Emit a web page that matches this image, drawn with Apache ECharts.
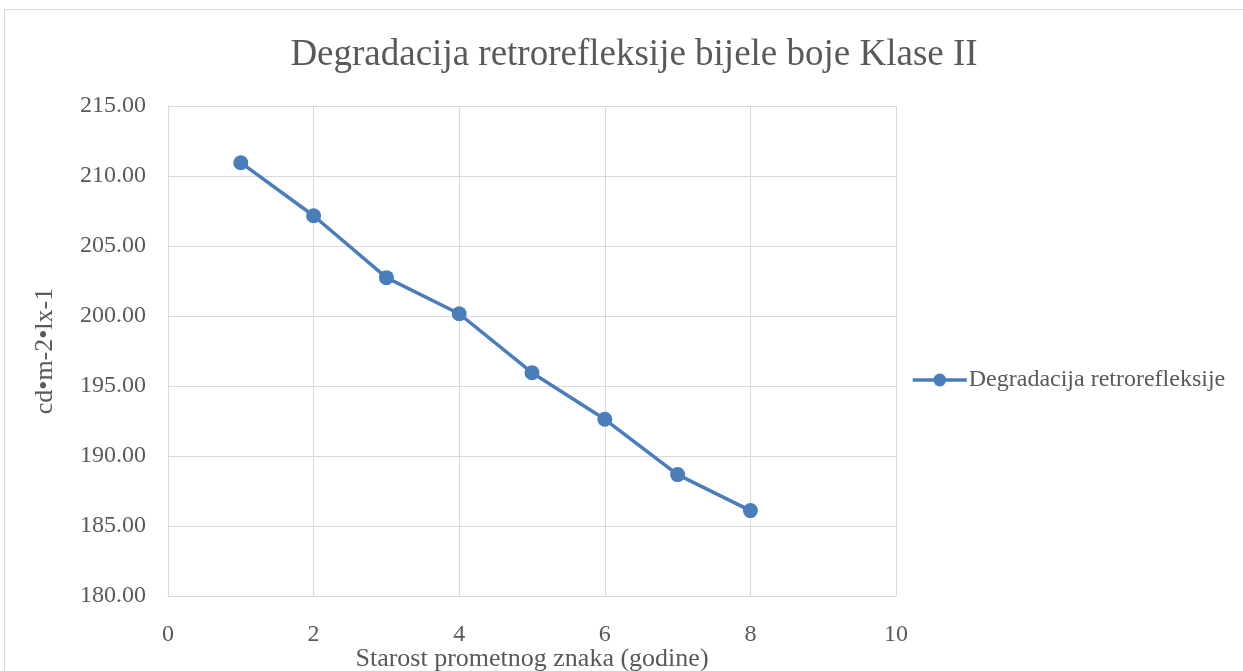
<!DOCTYPE html>
<html>
<head>
<meta charset="utf-8">
<script src="https://cdn.jsdelivr.net/npm/echarts@6/dist/echarts.min.js"></script>
<style>
  html, body { margin: 0; padding: 0; background: #fff; }
  .frame { position: absolute; left: 4px; top: 9px; width: 1245px; height: 670px; border: 1px solid #d9d9d9; box-sizing: border-box; }
  .main { position: absolute; left: 0; top: 0; width: 1243px; height: 671px; }
</style>
</head>
<body>
<div class="frame"></div>
<div class="main"></div>
<script>
  let years = [1, 2, 3, 4, 5, 6, 7, 8],
      values = [210.95, 207.16, 202.74, 200.16, 195.95, 192.62, 188.67, 186.10];

  let seriesName = 'Degradacija retrorefleksije';
  let font = '"Liberation Serif", "Times New Roman", serif';

  let pts = years.map((x, i) => [x, values[i]]);

  /* global echarts: true */
  let myChart = echarts.init(document.querySelector('.main'));

  let option = {
    animation: false,
    textStyle: { fontFamily: font },
    title: {
      text: 'Degradacija retrorefleksije bijele boje Klase II',
      left: 629,
      textAlign: 'center',
      top: 32,
      textStyle: { fontFamily: font, fontSize: 37, fontWeight: 'normal', color: '#595959' }
    },
    legend: {
      data: [seriesName],
      left: 906,
      top: 363,
      itemWidth: 54,
      itemHeight: 16,
      itemGap: 0,
      lineStyle: { width: 3.5 },
      textStyle: { fontFamily: font, fontSize: 24, color: '#595959', padding: [0, 0, 0, -3] }
    },
    grid: { left: 168, right: 347, top: 106, bottom: 75, outerBoundsMode: 'none', containLabel: false },
    xAxis: {
      type: 'value',
      min: 0,
      max: 10,
      interval: 2,
      name: 'Starost prometnog znaka (godine)',
      nameLocation: 'middle',
      nameGap: 63,
      nameMoveOverlap: false,
      nameTextStyle: { fontFamily: font, fontSize: 26, color: '#595959', verticalAlign: 'middle' },
      axisLine: { show: true, lineStyle: { color: '#d9d9d9', width: 1 } },
      axisTick: { show: false },
      axisLabel: { margin: 27, fontFamily: font, fontSize: 24, color: '#595959' },
      splitLine: { show: true, lineStyle: { color: '#d9d9d9', width: 1 } }
    },
    yAxis: {
      type: 'value',
      min: 180,
      max: 215,
      interval: 5,
      name: 'cd•m-2•lx-1',
      nameLocation: 'middle',
      nameGap: 110,
      nameTextStyle: { fontFamily: font, fontSize: 26, color: '#595959' },
      axisLine: { show: true, lineStyle: { color: '#d9d9d9', width: 1 } },
      axisTick: { show: false },
      axisLabel: {
        margin: 22,
        fontFamily: font,
        fontSize: 24,
        color: '#595959',
        formatter: v => v.toFixed(2)
      },
      splitLine: { show: true, lineStyle: { color: '#d9d9d9', width: 1 } }
    },
    series: [{
      name: seriesName,
      type: 'line',
      data: pts,
      symbol: 'circle',
      symbolSize: 15,
      itemStyle: { color: '#4a7ebb' },
      lineStyle: { color: '#4a7ebb', width: 3.5 }
    }]
  };

  myChart.setOption(option);
</script>
</body>
</html>
